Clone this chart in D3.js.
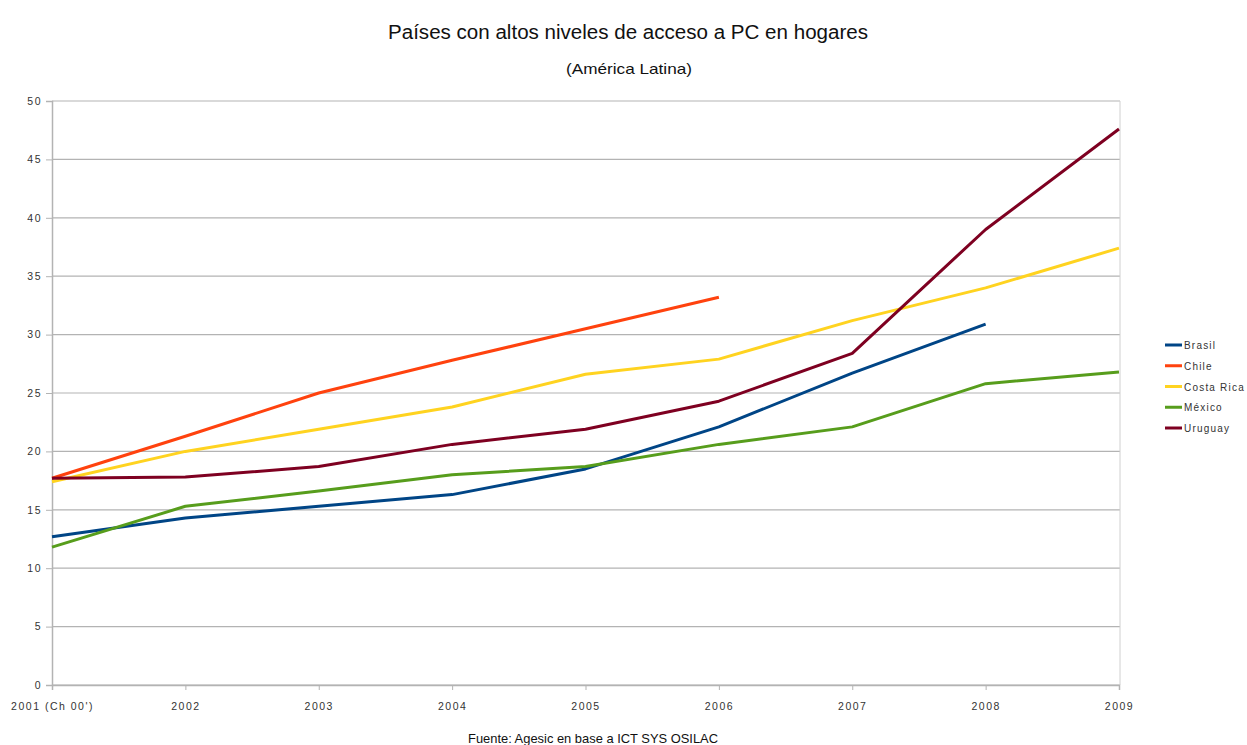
<!DOCTYPE html>
<html><head><meta charset="utf-8">
<script src="https://cdn.jsdelivr.net/npm/d3@7"></script>
<style>body{margin:0;background:#fff}svg{display:block}text{font-family:"Liberation Sans",Arial,sans-serif}</style>
</head><body>
<svg id="c" width="1247" height="745"></svg>
<script>
const categories = ["2001 (Ch 00')","2002","2003","2004","2005","2006","2007","2008","2009"];
const seriesNames = ["Brasil","Chile","Costa Rica","México","Uruguay"];
const brasil    = [12.7,14.3,15.3,16.3,18.5,22.1,26.7,30.9,null];
const chile     = [17.7,21.3,25.0,27.8,30.5,33.2,null,null,null];
const costaRica = [17.4,20.0,21.9,23.8,26.6,27.9,31.2,34.0,37.4];
const mexico    = [11.8,15.3,16.6,18.0,18.7,20.6,22.1,25.8,26.8];
const uruguay   = [17.7,17.8,18.7,20.6,21.9,24.3,28.4,39.0,47.6];
const yTicks = [0,5,10,15,20,25,30,35,40,45,50];
const colors = ["#004586","#ff420e","#ffd320","#579d1c","#7e0021"];
const allSeries = [brasil,chile,costaRica,mexico,uruguay];

const svg = d3.select("#c");
const L=52,R=1119,T=101,B=685;
const x = d3.scalePoint().domain(categories).range([L,R]);
const y = d3.scaleLinear().domain([0,50]).range([B,T]);

// gridlines
svg.append("g").selectAll("line").data(yTicks).join("line")
  .attr("x1",L).attr("x2",R+1).attr("y1",d=>y(d)).attr("y2",d=>y(d))
  .attr("stroke","#b3b3b3").attr("stroke-width",1.2);
// right border
svg.append("line").attr("x1",R+1).attr("x2",R+1).attr("y1",T).attr("y2",B).attr("stroke","#d0d0d0");

// y axis
const ya = svg.append("g").attr("transform",`translate(${L},0)`)
  .call(d3.axisLeft(y).tickValues(yTicks).tickSize(6).tickPadding(4).tickFormat(d3.format("d")));
ya.select(".domain").attr("stroke","#b3b3b3").attr("stroke-width",1.5);
ya.selectAll(".tick line").attr("stroke","#b3b3b3");
ya.selectAll("text").attr("font-size",10.5).attr("fill","#333").attr("letter-spacing","1.5px").attr("font-family","'Liberation Sans',Arial,sans-serif");

// x axis
const xa = svg.append("g").attr("transform",`translate(0,${B})`)
  .call(d3.axisBottom(x).tickSize(5).tickPadding(13));
xa.select(".domain").attr("stroke","#b3b3b3").attr("stroke-width",1.5);
xa.selectAll(".tick line").attr("stroke","#b3b3b3");
xa.selectAll("text").attr("font-size",10.5).attr("fill","#333").attr("letter-spacing","1.5px").attr("font-family","'Liberation Sans',Arial,sans-serif");

// lines
const line = d3.line().defined(d=>d!=null).x((d,i)=>x(categories[i])).y(d=>y(d));
allSeries.forEach((s,k)=>{
  svg.append("path").datum(s).attr("d",line).attr("fill","none")
    .attr("stroke",colors[k]).attr("stroke-width",3).attr("stroke-linejoin","round");
});

// legend
const lg = svg.append("g").attr("transform","translate(1165,345)");
seriesNames.forEach((n,i)=>{
  lg.append("line").attr("x1",0).attr("x2",17).attr("y1",i*20.75).attr("y2",i*20.75)
    .attr("stroke",colors[i]).attr("stroke-width",3);
  lg.append("text").attr("x",19).attr("y",i*20.75+4).attr("font-size",10).attr("fill","#333")
    .attr("letter-spacing","1.2px").text(n);
});

// titles
svg.append("text").attr("x",388).attr("y",39).attr("font-size",20)
  .attr("textLength",480).attr("lengthAdjust","spacingAndGlyphs")
  .attr("fill","#111").text("Países con altos niveles de acceso a PC en hogares");
svg.append("text").attr("x",566).attr("y",74).attr("font-size",15)
  .attr("textLength",126).attr("lengthAdjust","spacingAndGlyphs")
  .attr("fill","#111").text("(América Latina)");
svg.append("text").attr("x",468).attr("y",743).attr("font-size",13)
  .attr("textLength",250).attr("lengthAdjust","spacingAndGlyphs")
  .attr("fill","#111").text("Fuente: Agesic en base a ICT SYS OSILAC");
</script>
</body></html>
